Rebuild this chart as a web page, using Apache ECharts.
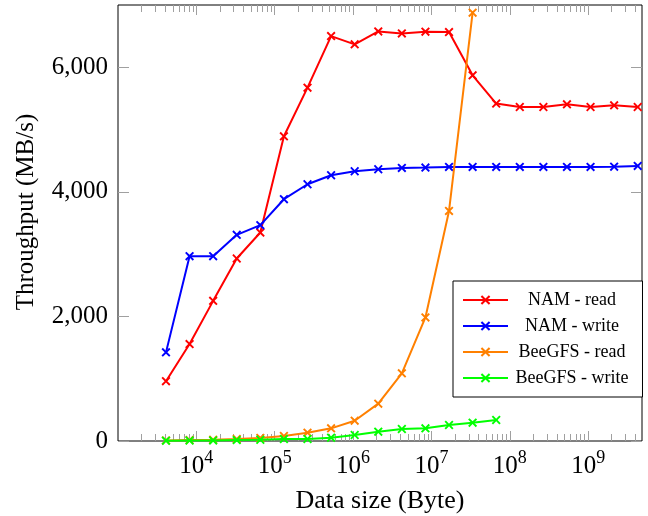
<!DOCTYPE html>
<html>
<head>
<meta charset="utf-8">
<script src="https://cdn.jsdelivr.net/npm/echarts@6/dist/echarts.min.js"></script>
<style>
  html, body { margin: 0; padding: 0; background: #ffffff; }
  #chart { width: 648px; height: 516px; }
</style>
</head>
<body>
<div id="chart"></div>
<script>
// data sizes in bytes, 2^12 .. 2^32
const sizes = [4096, 8192, 16384, 32768, 65536, 131072, 262144, 524288, 1048576, 2097152,
  4194304, 8388608, 16777216, 33554432, 67108864, 134217728, 268435456, 536870912,
  1073741824, 2147483648, 4294967296];

const namRead = [960, 1556, 2250, 2930, 3347, 4892, 5673, 6501, 6368, 6575,
  6544, 6571, 6565, 5871, 5417, 5362, 5362, 5405, 5362, 5389, 5362];
const namWrite = [1423, 2967, 2967, 3310, 3465, 3882, 4122, 4267, 4331, 4363,
  4384, 4390, 4400, 4400, 4400, 4400, 4400, 4400, 4400, 4405, 4416];
const beeRead = [10, 15, 20, 32, 50, 80, 133, 203, 326, 600, 1086, 1984, 3694, 6876];
const beeWrite = [5, 8, 10, 15, 20, 32, 32, 53, 96, 149, 193, 203, 257, 294, 337];

const seriesNames = ['NAM - read', 'NAM - write', 'BeeGFS - read', 'BeeGFS - write'];
const seriesColors = ['#ff0000', '#0000ff', '#ff8000', '#00ff00'];

const majorTicks = [1e4, 1e5, 1e6, 1e7, 1e8, 1e9];
const yTicks = [0, 2000, 4000, 6000];

function minorTickValues() {
  let out = [];
  for (let e = 3; e <= 9; e++) {
    for (let k = 2; k <= 9; k++) {
      let v = k * Math.pow(10, e);
      if (v < 4.87e9) out.push(v);
    }
  }
  return out;
}

const xMark = 'path://M0,1.5L1.5,0L5,3.5L8.5,0L10,1.5L6.5,5L10,8.5L8.5,10L5,6.5L1.5,10L0,8.5L3.5,5Z';
const serif = 'Liberation Serif';
const tickGray = '#a0a0a0';

function pairs(values) {
  return values.map((v, i) => [sizes[i], v]);
}

function xAxisBase(pos, ticks, len, labels) {
  return {
    type: 'log',
    logBase: 10,
    min: 1000,
    max: 4.87e9,
    position: pos,
    axisLine: { show: false },
    splitLine: { show: false },
    axisTick: { show: true, inside: true, length: len, customValues: ticks, lineStyle: { color: tickGray, width: 1 } },
    axisLabel: labels ? {
      show: true,
      customValues: majorTicks,
      margin: 8,
      formatter: (v) => '{b|10}{s|' + Math.round(Math.log10(v)) + '}',
      rich: {
        b: { fontFamily: serif, fontSize: 25, color: '#000', verticalAlign: 'bottom' },
        s: { fontFamily: serif, fontSize: 18, color: '#000', verticalAlign: 'bottom', padding: [0, 0, 12, 0] }
      }
    } : { show: false }
  };
}

function yAxisBase(pos, labels) {
  return {
    type: 'value',
    min: 0,
    max: 7000,
    interval: 2000,
    position: pos,
    axisLine: { show: false },
    splitLine: { show: false },
    axisTick: { show: true, inside: true, length: 11, customValues: yTicks, lineStyle: { color: tickGray, width: 1 } },
    axisLabel: labels ? {
      show: true,
      customValues: yTicks,
      margin: 10,
      fontFamily: serif,
      fontSize: 25,
      color: '#000',
      formatter: (v) => v.toLocaleString('en-US')
    } : { show: false }
  };
}

function buildSeries() {
  let all = [namRead, namWrite, beeRead, beeWrite];
  return all.map((vals, i) => ({
    name: seriesNames[i],
    type: 'line',
    data: pairs(vals),
    symbol: xMark,
    symbolSize: 9,
    showAllSymbol: true,
    lineStyle: { color: seriesColors[i], width: 2 },
    itemStyle: { color: seriesColors[i] },
    z: 2 + i
  }));
}

function drawChart() {
  let chartDom = document.querySelector('#chart');
  let myChart = echarts.init(chartDom);

  let bottomMajor = xAxisBase('bottom', majorTicks, 10, true);
  bottomMajor.name = 'Data size (Byte)';
  bottomMajor.nameLocation = 'middle';
  bottomMajor.nameGap = 47;
  bottomMajor.nameTextStyle = { fontFamily: serif, fontSize: 26, color: '#000' };

  let leftAxis = yAxisBase('left', true);
  leftAxis.name = 'Throughput (MB/s)';
  leftAxis.nameLocation = 'middle';
  leftAxis.nameGap = 79;
  leftAxis.nameTextStyle = { fontFamily: serif, fontSize: 25, color: '#000', padding: [0, 0, 0, 22] };

  let option = {
    backgroundColor: '#ffffff',
    animation: false,
    grid: {
      left: 118,
      right: 6,
      top: 5,
      bottom: 75,
      outerBoundsMode: 'none',
      containLabel: false,
      show: true,
      borderColor: '#000',
      borderWidth: 1,
      backgroundColor: 'transparent'
    },
    legend: {
      orient: 'vertical',
      left: 453,
      top: 281,
      padding: [10, 14, 10, 9],
      itemWidth: 45,
      itemHeight: 12,
      itemGap: 8,
      backgroundColor: '#ffffff',
      borderColor: '#000',
      borderWidth: 1,
      borderRadius: 0,
      formatter: (name) => '{c|' + name + '}',
      textStyle: {
        fontFamily: serif,
        fontSize: 18,
        color: '#000',
        rich: {
          c: { fontFamily: serif, fontSize: 18, color: '#000', width: 118, align: 'center' }
        }
      },
      data: seriesNames
    },
    xAxis: [
      bottomMajor,
      xAxisBase('bottom', minorTickValues(), 7, false),
      xAxisBase('top', majorTicks, 10, false),
      xAxisBase('top', minorTickValues(), 7, false)
    ],
    yAxis: [
      leftAxis,
      yAxisBase('right', false)
    ],
    series: buildSeries()
  };

  myChart.setOption(option);
}

document.addEventListener('DOMContentLoaded', () => {
  drawChart();
})
</script>
</body>
</html>
